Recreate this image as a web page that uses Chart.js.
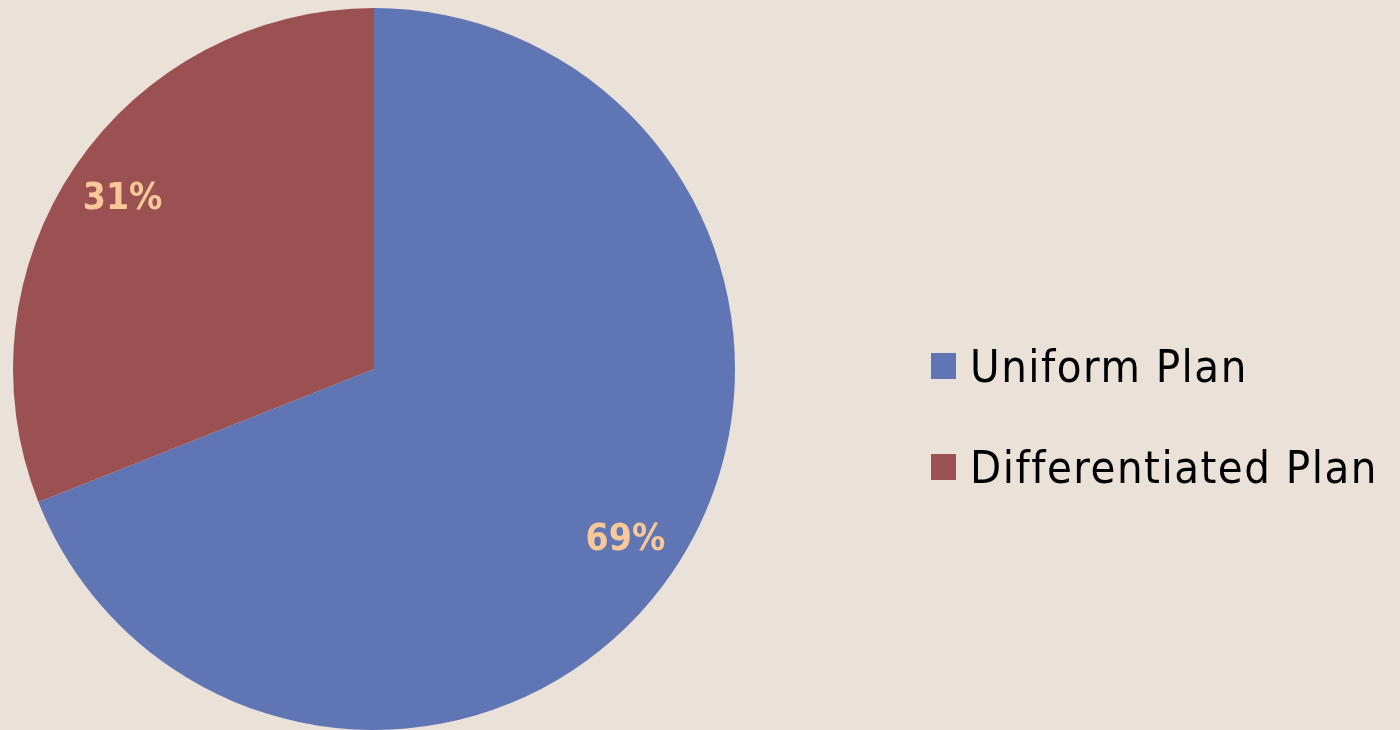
<!DOCTYPE html>
<html>
<head>
<meta charset="utf-8">
<script src="https://cdn.jsdelivr.net/npm/chart.js@4"></script>
<style>
  html, body { margin: 0; padding: 0; background: #EAE2D9; }
  #wrap { width: 1400px; height: 730px; position: relative; }
</style>
</head>
<body>
<div id="wrap"><canvas id="c" width="1400" height="730"></canvas></div>
<script>
const categories = ["Uniform Plan", "Differentiated Plan"];
const values = [69, 31];
const sliceColors = ["#6076B4", "#9B5151"];
const FONT = '"DejaVu Sans Condensed", "DejaVu Sans", sans-serif';

const labelPlugin = {
  id: 'sliceLabels',
  afterDatasetsDraw(chart) {
    const ctx = chart.ctx;
    const meta = chart.getDatasetMeta(0);
    const total = values.reduce((a, b) => a + b, 0);
    ctx.save();
    ctx.font = 'bold 37px ' + FONT;
    ctx.fillStyle = '#F8C898';
    ctx.textAlign = 'center';
    ctx.textBaseline = 'middle';
    meta.data.forEach((arc, i) => {
      const p = arc.getProps(['x', 'y', 'startAngle', 'endAngle', 'outerRadius'], true);
      const mid = (p.startAngle + p.endAngle) / 2;
      const r = p.outerRadius * 0.842;
      const x = p.x + Math.cos(mid) * r;
      const y = p.y + Math.sin(mid) * r + 1;
      ctx.fillText(Math.round(values[i] / total * 100) + '%', x, y);
    });
    ctx.restore();
  }
};

const legendPlugin = {
  id: 'sideLegend',
  afterDraw(chart) {
    const ctx = chart.ctx;
    ctx.save();
    ctx.font = '45px ' + FONT;
    ctx.letterSpacing = '1.5px';
    ctx.textBaseline = 'alphabetic';
    ctx.textAlign = 'left';
    const baselines = [382, 483];
    chart.data.labels.forEach((lab, i) => {
      const b = baselines[i];
      ctx.fillStyle = chart.data.datasets[0].backgroundColor[i];
      ctx.fillRect(931, b - 29, 25, 26);
      ctx.fillStyle = '#000000';
      ctx.fillText(lab, 970, b);
    });
    ctx.restore();
  }
};

new Chart(document.getElementById('c'), {
  type: 'pie',
  data: {
    labels: categories,
    datasets: [{
      data: values,
      backgroundColor: sliceColors,
      borderWidth: 0
    }]
  },
  options: {
    responsive: false,
    animation: false,
    layout: { padding: { left: 13, top: 8, right: 665, bottom: 0 } },
    plugins: {
      legend: { display: false },
      tooltip: { enabled: false }
    }
  },
  plugins: [labelPlugin, legendPlugin]
});
</script>
</body>
</html>
